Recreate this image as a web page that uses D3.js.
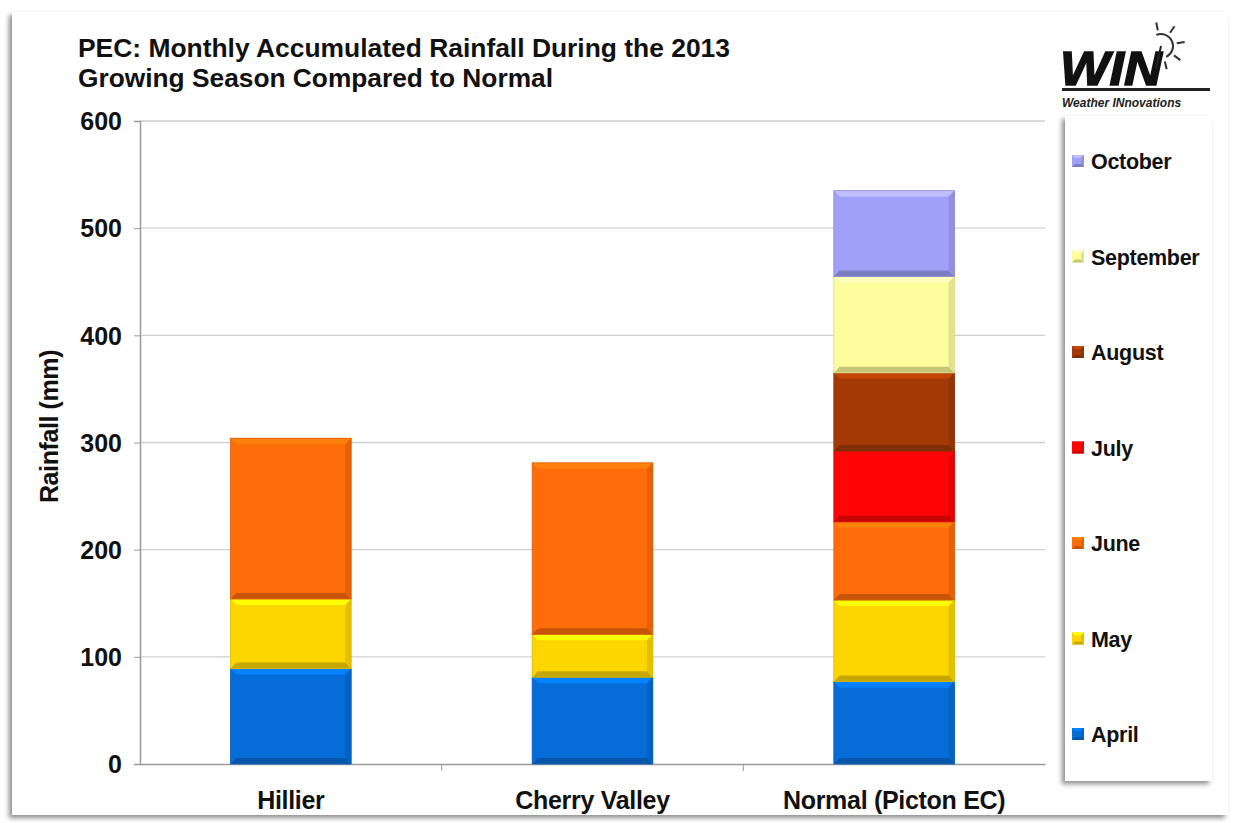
<!DOCTYPE html>
<html>
<head>
<meta charset="utf-8">
<script src="https://cdn.jsdelivr.net/npm/d3@7"></script>
<style>
  body { margin: 0; background: #fff; font-family: "Liberation Sans", Arial, sans-serif; }
  text { font-family: "Liberation Sans", Arial, sans-serif; font-weight: bold; }
</style>
</head>
<body>
<div id="chart-area"></div>
<script>
const sites = ["Hillier", "Cherry Valley", "Normal (Picton EC)"];
const months = ["April", "May", "June", "July", "August", "September", "October"];
const april = [89, 81, 77];
const may = [65, 40, 76];
const june = [150, 160, 73];
const july = [0, 0, 66];
const august = [0, 0, 73];
const september = [0, 0, 90];
const october = [0, 0, 80];
const yTicks = [0, 100, 200, 300, 400, 500, 600];
const colors = ["#066dd8", "#fdd600", "#ff6c0a", "#ff0505", "#a33a06", "#fdfd9d", "#a0a0f8"];

const series = [april, may, june, july, august, september, october];
const rows = sites.map((s, i) => {
  const r = { site: s };
  months.forEach((m, j) => (r[m] = series[j][i]));
  return r;
});

const chart = { width: 1235, height: 823 };
const margin = { top: 121, left: 140, right: 190, bottom: 59 };
const width = chart.width - margin.left - margin.right;
const height = chart.height - margin.top - margin.bottom;

const svg = d3.select("#chart-area").append("svg")
  .attr("width", chart.width).attr("height", chart.height);

const defs = svg.append("defs");
const sh = defs.append("filter").attr("id", "shadow")
  .attr("x", "-5%").attr("y", "-5%").attr("width", "110%").attr("height", "110%");
sh.append("feDropShadow").attr("dx", -3).attr("dy", 3).attr("stdDeviation", 2.5)
  .attr("flood-color", "#000").attr("flood-opacity", 0.45);

// outer frame
svg.append("rect").attr("x", 12).attr("y", 12).attr("width", 1216).attr("height", 803)
  .attr("fill", "#fff").attr("filter", "url(#shadow)");

// title
svg.append("text").attr("x", 78).attr("y", 57)
  .attr("font-size", 25).attr("fill", "#111")
  .attr("textLength", 652).attr("lengthAdjust", "spacingAndGlyphs")
  .text("PEC: Monthly Accumulated Rainfall During the 2013");
svg.append("text").attr("x", 78).attr("y", 87)
  .attr("font-size", 25).attr("fill", "#111")
  .attr("textLength", 475).attr("lengthAdjust", "spacingAndGlyphs")
  .text("Growing Season Compared to Normal");

const g = svg.append("g").attr("transform", `translate(${margin.left}, ${margin.top})`);

const y = d3.scaleLinear().domain([0, 600]).range([height, 0]);
const x = d3.scaleBand().domain(sites).range([0, width]).paddingInner(0.6).paddingOuter(0.3);

// gridlines
g.append("g").selectAll("line").data(yTicks.slice(1)).join("line")
  .attr("x1", 0).attr("x2", width)
  .attr("y1", d => y(d)).attr("y2", d => y(d))
  .attr("stroke", "#cfcfcf").attr("stroke-width", 1.3);

// y axis
const yAxis = d3.axisLeft(y).tickValues(yTicks).tickSize(6).tickPadding(12);
const ya = g.append("g").attr("class", "y-axis").call(yAxis);
ya.select(".domain").attr("stroke", "#9a9a9a").attr("stroke-width", 1.5);
ya.selectAll(".tick line").attr("stroke", "#9a9a9a");
ya.selectAll(".tick text").attr("font-size", 25).attr("fill", "#111").attr("font-weight", "bold")
  .attr("dy", "0.35em");

// x axis
const xAxis = d3.axisBottom(x).tickSize(0).tickPadding(27);
const xa = g.append("g").attr("class", "x-axis").attr("transform", `translate(0, ${height})`).call(xAxis);
xa.select(".domain").attr("stroke", "#9a9a9a").attr("stroke-width", 1.5);
xa.selectAll(".tick text").attr("font-size", 25).attr("fill", "#111").attr("letter-spacing", -0.3)
  .attr("font-weight", "bold");
xa.append("g").selectAll("line").data(sites.slice(1)).join("line")
  .attr("x1", d => x(d) - x.step() * x.paddingInner() / 2)
  .attr("x2", d => x(d) - x.step() * x.paddingInner() / 2)
  .attr("y1", 0).attr("y2", 7).attr("stroke", "#9a9a9a");

// y label
g.append("text").text("Rainfall (mm)")
  .attr("transform", "rotate(-90)")
  .attr("x", -height / 2 + 16).attr("y", -82)
  .attr("text-anchor", "middle").attr("font-size", 25).attr("fill", "#111").attr("letter-spacing", -0.4);

// stacked bars with bevel
const stack = d3.stack().keys(months)(rows);
const c = d3.scaleOrdinal().domain(months).range(colors);

const bevel = (sel, bx, by, bw, bh, col, b) => {
  sel.append("rect").attr("x", bx).attr("y", by).attr("width", bw).attr("height", bh).attr("fill", col);
  const light = d3.color(col).brighter(0.5).formatHex();
  const dark = d3.color(col).darker(0.7).formatHex();
  const mid = d3.color(col).darker(0.3).formatHex();
  const pts = a => a.map(p => p.join(",")).join(" ");
  sel.append("polygon").attr("fill", light)
    .attr("points", pts([[bx, by], [bx + bw, by], [bx + bw - b, by + b], [bx + b, by + b]]));
  sel.append("polygon").attr("fill", dark)
    .attr("points", pts([[bx, by + bh], [bx + bw, by + bh], [bx + bw - b, by + bh - b], [bx + b, by + bh - b]]));
  sel.append("polygon").attr("fill", mid)
    .attr("points", pts([[bx + bw, by], [bx + bw, by + bh], [bx + bw - b, by + bh - b], [bx + bw - b, by + b]]));
};

const layers = g.append("g").selectAll("g").data(stack).join("g");
layers.each(function (layer) {
  const col = c(layer.key);
  layer.forEach(d => {
    const h = y(d[0]) - y(d[1]);
    if (h <= 0) return;
    const seg = d3.select(this).append("g");
    bevel(seg, x(d.data.site), y(d[1]), x.bandwidth(), h, col, 6);
    seg.append("rect").attr("x", x(d.data.site)).attr("y", y(d[1]))
      .attr("width", x.bandwidth()).attr("height", h)
      .attr("fill", "none").attr("stroke", d3.color(col).darker(0.4)).attr("stroke-width", 0.8);
  });
});

// legend
const lg = svg.append("g");
lg.append("rect").attr("x", 1065).attr("y", 116).attr("width", 147).attr("height", 665)
  .attr("fill", "#fff").attr("filter", "url(#shadow)");
const legendY = d3.scalePoint().domain(months.slice().reverse()).range([161, 734]);
const items = lg.selectAll("g.item").data(months).join("g").attr("class", "item");
items.each(function (m) {
  const it = d3.select(this);
  bevel(it, 1072, legendY(m) - 6, 12, 12, c(m), 3);
  it.append("text").attr("x", 1091).attr("y", legendY(m) + 8).text(m)
    .attr("font-size", 21.5).attr("fill", "#111").attr("letter-spacing", -0.3);
});

// logo
const logo = svg.append("g");
logo.append("text").attr("x", 1060).attr("y", 85).text("WIN")
  .attr("font-size", 48).attr("font-style", "italic").attr("font-weight", 900)
  .attr("textLength", 102).attr("lengthAdjust", "spacingAndGlyphs")
  .attr("fill", "#111").attr("stroke", "#111").attr("stroke-width", 1.5);
logo.append("rect").attr("x", 1062).attr("y", 88).attr("width", 148).attr("height", 3).attr("fill", "#222");
logo.append("text").attr("x", 1062).attr("y", 107).text("Weather INnovations")
  .attr("font-size", 12).attr("font-style", "italic").attr("fill", "#222");
const sun = logo.append("g").attr("transform", "translate(1161, 46)");
sun.append("path").attr("d", d3.arc()({ innerRadius: 11, outerRadius: 13, startAngle: -0.4, endAngle: 2.7 }))
  .attr("fill", "#333");
[-0.2, 0.6, 1.4, 2.2, 2.9].forEach(a => {
  sun.append("line")
    .attr("x1", Math.sin(a) * 16).attr("y1", -Math.cos(a) * 16)
    .attr("x2", Math.sin(a) * 24).attr("y2", -Math.cos(a) * 24)
    .attr("stroke", "#333").attr("stroke-width", 2);
});
sun.append("line").attr("x1", 0).attr("y1", 0).attr("x2", -5).attr("y2", 22)
  .attr("stroke", "#222").attr("stroke-width", 2);
</script>
</body>
</html>
